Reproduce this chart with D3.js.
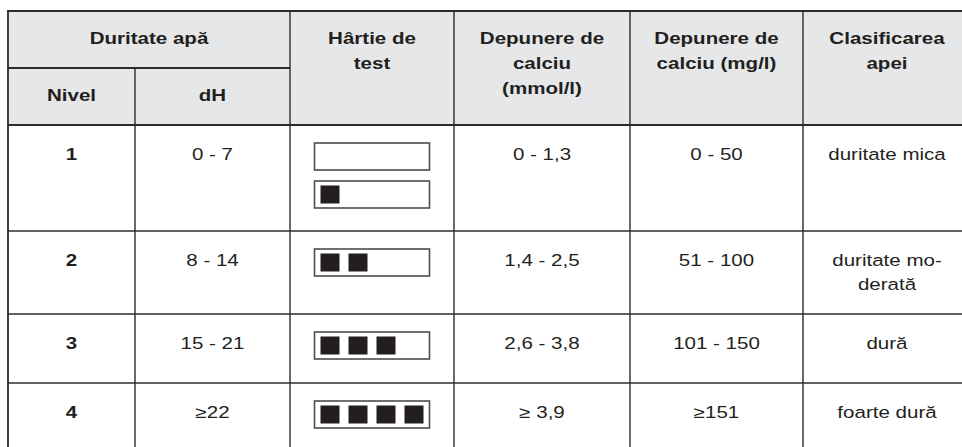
<!DOCTYPE html>
<html>
<head>
<meta charset="utf-8">
<script src="https://cdn.jsdelivr.net/npm/d3@7"></script>
<style>
  body { margin: 0; background: #fff; }
  svg { display: block; }
  text { font-family: "Liberation Sans", Arial, sans-serif; fill: #231f20; }
</style>
</head>
<body>
<svg id="chart" width="962" height="447"></svg>
<script>
// table content
var levels = ['1', '2', '3', '4'];
var dHRanges = ['0 - 7', '8 - 14', '15 - 21', '≥22'];
var stripSquares = [[0, 1], [2], [3], [4]]; // squares per strip, per row
var mmolRanges = ['0 - 1,3', '1,4 - 2,5', '2,6 - 3,8', '≥ 3,9'];
var mgRanges = ['0 - 50', '51 - 100', '101 - 150', '≥151'];
var classes = [['duritate mica'], ['duritate mo-', 'derată'], ['dură'], ['foarte dură']];
var groupHeader = 'Duritate apă';
var subHeaders = ['Nivel', 'dH'];
var headers = [['Hârtie de', 'test'], ['Depunere de', 'calciu', '(mmol/l)'], ['Depunere de', 'calciu (mg/l)'], ['Clasificarea', 'apei']];

// layout
var colEdges = [8, 135, 290, 454, 630, 803, 971];
var tableTop = 11, subTop = 68, headBottom = 125;
var rowEdges = [125, 231, 314, 383, 470];
var fontSize = 16.3, stretch = 1.26, lineH = 25;
var ink = '#231f20', lineCol = '#2b2b2b';

var svg = d3.select('#chart');

var x = d3.scaleOrdinal().domain(d3.range(6)).range(colEdges.slice(0, 6));
function colMid(i) { return (colEdges[i] + colEdges[i + 1]) / 2; }

function addText(g, str, cx, y, bold) {
  g.append('text')
    .attr('transform', 'translate(' + cx + ',' + y + ') scale(' + stretch + ',1)')
    .attr('text-anchor', 'middle')
    .attr('font-size', fontSize)
    .attr('font-weight', bold ? 'bold' : 'normal')
    .text(str);
}

// header background
svg.append('rect')
  .attr('x', colEdges[0]).attr('y', tableTop)
  .attr('width', colEdges[6] - colEdges[0]).attr('height', headBottom - tableTop)
  .attr('fill', '#e6e7e8');

var head = svg.append('g');
addText(head, groupHeader, (colEdges[0] + colEdges[2]) / 2, 44, true);
subHeaders.forEach(function(s, i) { addText(head, s, colMid(i), 101, true); });
headers.forEach(function(lines, i) {
  lines.forEach(function(l, j) { addText(head, l, colMid(i + 2), 44 + j * lineH, true); });
});

// body cells
var body = svg.append('g');
var columns = [levels, dHRanges, null, mmolRanges, mgRanges, classes];
levels.forEach(function(lv, r) {
  var top = rowEdges[r];
  var base = top + 34.5;
  columns.forEach(function(col, c) {
    if (!col) return;
    var val = col[r];
    var lines = Array.isArray(val) ? val : [val];
    lines.forEach(function(l, j) { addText(body, l, colMid(c), base + j * 24, c === 0); });
  });
});

// test strips
var stripW = 115, stripH = 27;
var sq = d3.scaleLinear().domain([0, 1]).range([6, 34]);
var strips = [];
stripSquares.forEach(function(counts, r) {
  counts.forEach(function(n, k) { strips.push({ row: r, k: k, n: n }); });
});
var sg = svg.append('g').selectAll('g').data(strips).join('g')
  .attr('transform', function(d) {
    return 'translate(' + (colMid(2) - stripW / 2) + ',' + (rowEdges[d.row] + 18 + d.k * 38) + ')';
  });
sg.append('rect')
  .attr('width', stripW).attr('height', stripH)
  .attr('fill', '#fff').attr('stroke', '#4d4d4f').attr('stroke-width', 1.6);
sg.selectAll('rect.sq').data(function(d) { return d3.range(d.n); }).join('rect')
  .attr('class', 'sq')
  .attr('x', function(i) { return sq(i); }).attr('y', 4.5)
  .attr('width', 19).attr('height', 18)
  .attr('fill', ink);

// grid lines
var grid = svg.append('g').attr('stroke', lineCol).attr('fill', 'none');
function hline(x1, x2, y, w) {
  grid.append('line').attr('x1', x1).attr('x2', x2).attr('y1', y).attr('y2', y).attr('stroke-width', w);
}
function vline(xp, y1, y2, w) {
  grid.append('line').attr('x1', xp).attr('x2', xp).attr('y1', y1).attr('y2', y2).attr('stroke-width', w);
}
hline(colEdges[0] - 1, 962, tableTop, 2);
hline(colEdges[0], colEdges[2], subTop, 2);
hline(colEdges[0], 962, headBottom, 2);
rowEdges.slice(1, 4).forEach(function(y) { hline(colEdges[0], 962, y, 1.6); });
vline(colEdges[0], tableTop, 447, 1.8);
vline(colEdges[1], subTop, 447, 1.4);
colEdges.slice(2, 6).forEach(function(xp) { vline(xp, tableTop, 447, 1.4); });
</script>
</body>
</html>
